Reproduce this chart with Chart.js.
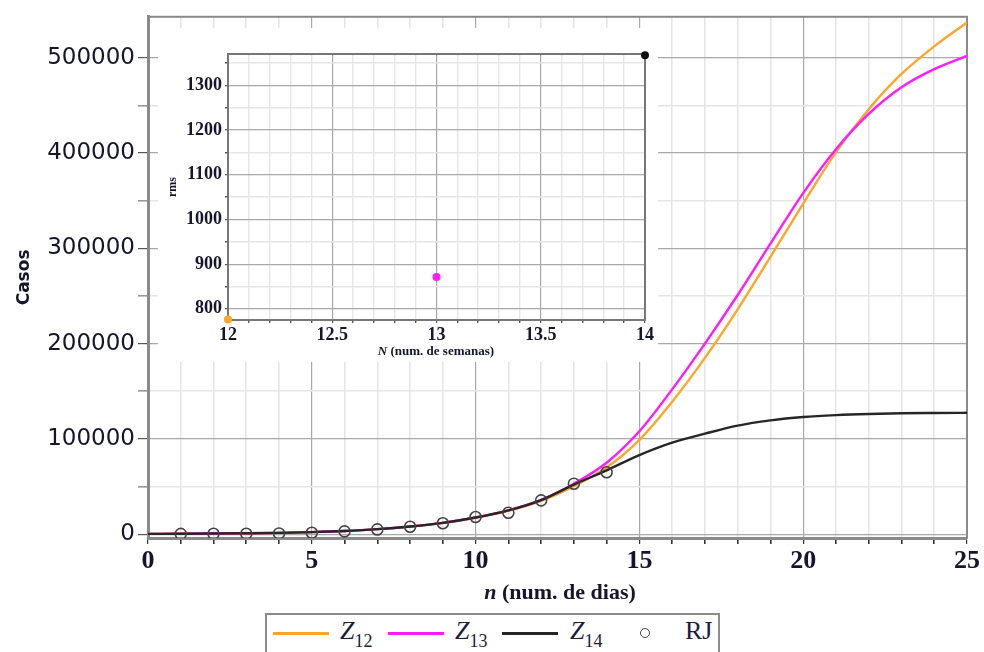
<!DOCTYPE html>
<html>
<head>
<meta charset="utf-8">
<script src="https://cdn.jsdelivr.net/npm/chart.js@4.4.1/dist/chart.umd.min.js"></script>
<style>
  html, body { margin: 0; padding: 0; background: #fff; overflow: hidden; }
  #wrap { position: relative; width: 984px; height: 652px; }
  #mainChart { position: absolute; left: 0; top: 0; }
  #insetBox { position: absolute; left: 158px; top: 28px; width: 500px; height: 334px; background: #fff; }
  #insetChart { position: absolute; left: 0; top: 0; }
  .axisTitle { position: absolute; font-family: "Liberation Serif", serif; font-weight: bold; color: #15152e; white-space: nowrap; transform: translateX(-50%); }
  #xTitle { left: 560px; top: 579px; font-size: 22px; }
  #insetXTitle { left: 278px; top: 315px; font-size: 13px; }
  #legend { position: absolute; left: 265px; top: 613px; width: 451px; height: 60px; border: 2px solid #8c8c8c; background: #fff; }
  #legend .ln { position: absolute; top: 17px; width: 56px; height: 3px; }
  #legend .lbl { position: absolute; top: 1px; font-family: "Liberation Serif", serif; font-size: 26px; color: #1c1c3c; white-space: nowrap; }
  #legend .lbl i { font-style: italic; }
  #legend .lbl sub { font-size: 18px; position: relative; top: 1px; vertical-align: -7px; line-height: 0; }
  #legend .dot { position: absolute; top: 13px; left: 373px; width: 8px; height: 8px; border: 1.6px solid #444; border-radius: 50%; }
</style>
</head>
<body>
<div id="wrap">
  <canvas id="mainChart" width="984" height="652"></canvas>
  <div class="axisTitle" id="xTitle"><i>n</i> (num. de dias)</div>
  <div id="insetBox">
    <canvas id="insetChart" width="500" height="334"></canvas>
    <div class="axisTitle" id="insetXTitle"><i>N</i> (num. de semanas)</div>
  </div>
  <div id="legend">
    <span class="ln" style="left:6px; background:#ffa52a;"></span>
    <span class="lbl" style="left:73px;"><i>Z</i><sub>12</sub></span>
    <span class="ln" style="left:121px; background:#ff1aff;"></span>
    <span class="lbl" style="left:188px;"><i>Z</i><sub>13</sub></span>
    <span class="ln" style="left:235px; background:#262626;"></span>
    <span class="lbl" style="left:303px;"><i>Z</i><sub>14</sub></span>
    <span class="dot"></span>
    <span class="lbl" style="left:418px;">RJ</span>
  </div>
</div>
<script>
// model curves, one value per day
const days = [0, 1, 2, 3, 4, 5, 6, 7, 8, 9, 10, 11, 12, 13, 14, 15, 16, 17, 18, 19, 20, 21, 22, 23, 24, 25];
const z12 = [300, 450, 650, 950, 1400, 2200, 3400, 5300, 8100, 11800, 17200, 24500, 35000, 50500,
             70000, 99000, 139000, 185000, 236000, 291000, 347000, 401000, 446000, 483000, 512000, 537000];
const z13 = [300, 450, 650, 950, 1400, 2200, 3400, 5300, 8100, 11900, 17500, 25000, 36000, 53000,
             75000, 108000, 152000, 200000, 251000, 305000, 358000, 404000, 441000, 469000, 488000, 502000];
const z14 = [300, 450, 650, 950, 1400, 2200, 3400, 5300, 8100, 11900, 17500, 25000, 35800, 52000,
             67000, 83000, 96000, 105500, 114000, 119500, 123000, 125000, 126200, 126900, 127200, 127400];

// observed cases (RJ)
const rjDays = [1, 2, 3, 4, 5, 6, 7, 8, 9, 10, 11, 12, 13, 14];
const rjCases = [300, 400, 500, 800, 1500, 3000, 5000, 7800, 11500, 18000, 22500, 35500, 53000, 65000];

// tick positions
const dayTicks = days;
const caseTicks = [0, 50000, 100000, 150000, 200000, 250000, 300000, 350000, 400000, 450000, 500000];

// inset: rms error against number of weeks used
const weeks = [12, 13, 14];
const rms = [776, 871, 1367];
const rmsColors = ['#ffa52a', '#ff1aff', '#111111'];
const weekTicks = [12, 12.1, 12.2, 12.3, 12.4, 12.5, 12.6, 12.7, 12.8, 12.9, 13,
                   13.1, 13.2, 13.3, 13.4, 13.5, 13.6, 13.7, 13.8, 13.9, 14];
const rmsTicks = [800, 850, 900, 950, 1000, 1050, 1100, 1150, 1200, 1250, 1300, 1350];

const textColor = '#15152e';
const majorGrid = '#a9a9a9';
const minorGrid = '#e6e6e6';

const toXY = (xs, ys) => xs.map((x, i) => ({ x: x, y: ys[i] }));
const fixTicks = values => scale => { scale.ticks = values.map(v => ({ value: v })); };

// box around the plotting area
const frame = {
  id: 'frame',
  beforeDatasetsDraw(chart, args, opts) {
    const a = chart.chartArea;
    const ctx = chart.ctx;
    ctx.save();
    ctx.strokeStyle = opts.color;
    ctx.lineWidth = opts.width;
    ctx.strokeRect(a.left, a.top, a.right - a.left, a.bottom - a.top);
    ctx.restore();
  }
};

const curve = (label, data, color, order) => ({
  label: label,
  data: toXY(days, data),
  borderColor: color,
  borderWidth: 2.4,
  pointRadius: 0,
  cubicInterpolationMode: 'monotone',
  fill: false,
  order: order
});

const isFive = c => c.tick && c.tick.value % 5 === 0;
const isLakh = c => c.tick && c.tick.value % 100000 === 0;

const mainChart = new Chart(document.getElementById('mainChart'), {
  type: 'line',
  data: {
    datasets: [
      {
        label: 'RJ',
        data: toXY(rjDays, rjCases),
        showLine: false,
        pointStyle: 'circle',
        pointRadius: 5.5,
        pointBorderWidth: 1.6,
        pointBorderColor: '#444',
        pointBackgroundColor: 'rgba(0,0,0,0)',
        order: 0
      },
      curve('Z14', z14, '#262626', 1),
      curve('Z13', z13, '#ff1aff', 2),
      curve('Z12', z12, '#ffa52a', 3)
    ]
  },
  options: {
    responsive: false,
    animation: false,
    layout: { padding: { top: 14, right: 17, left: 0, bottom: 0 } },
    scales: {
      x: {
        type: 'linear',
        min: 0,
        max: 25,
        afterBuildTicks: fixTicks(dayTicks),
        afterFit: s => { s.height = 114; },
        ticks: {
          autoSkip: false,
          maxRotation: 0,
          padding: 2,
          color: textColor,
          font: { family: 'Liberation Serif', size: 26, weight: 'bold' },
          callback: v => (v % 5 === 0 ? String(v) : '')
        },
        grid: {
          color: c => (isFive(c) ? majorGrid : minorGrid),
          lineWidth: c => (isFive(c) ? 1.2 : 1.6),
          tickColor: '#333',
          tickLength: 6
        },
        border: { color: '#8a8a8a', width: 3 }
      },
      y: {
        min: -4000,
        max: 543000,
        afterBuildTicks: fixTicks(caseTicks),
        afterFit: s => { s.width = 148; },
        ticks: {
          autoSkip: false,
          padding: 3,
          color: textColor,
          font: { family: 'DejaVu Sans', size: 23 },
          callback: v => (v % 100000 === 0 ? String(v) : '')
        },
        grid: {
          color: c => (isLakh(c) ? majorGrid : minorGrid),
          lineWidth: c => (isLakh(c) ? 1.2 : 1.6),
          tickColor: c => (isLakh(c) ? '#555' : '#999'),
          tickLength: 10
        },
        border: { color: '#8a8a8a', width: 3 },
        title: {
          display: true,
          text: 'Casos',
          color: textColor,
          font: { family: 'DejaVu Sans', size: 17, weight: 'bold' },
          padding: { top: 14, bottom: 0 }
        }
      }
    },
    plugins: {
      legend: { display: false },
      tooltip: { enabled: false },
      frame: { color: '#8a8a8a', width: 2 }
    }
  },
  plugins: [frame]
});

const isHalf = v => Math.round(v * 10) % 5 === 0;

const insetChart = new Chart(document.getElementById('insetChart'), {
  type: 'scatter',
  data: {
    datasets: [{
      label: 'rms',
      data: toXY(weeks, rms),
      pointRadius: 4,
      pointBorderWidth: 0,
      pointBackgroundColor: rmsColors,
      clip: false
    }]
  },
  options: {
    responsive: false,
    animation: false,
    layout: { padding: { top: 26, right: 13, left: 0, bottom: 0 } },
    scales: {
      x: {
        type: 'linear',
        min: 12,
        max: 14,
        afterBuildTicks: fixTicks(weekTicks),
        afterFit: s => { s.height = 42; },
        ticks: {
          autoSkip: false,
          maxRotation: 0,
          padding: 2,
          color: textColor,
          font: { family: 'Liberation Serif', size: 18, weight: 'bold' },
          callback: v => (isHalf(v) ? String(Math.round(v * 10) / 10) : '')
        },
        grid: {
          color: c => (c.tick && isHalf(c.tick.value) ? majorGrid : minorGrid),
          lineWidth: c => (c.tick && isHalf(c.tick.value) ? 1.2 : 1.4),
          tickColor: '#555',
          tickLength: 3
        },
        border: { color: '#777', width: 2 }
      },
      y: {
        min: 775,
        max: 1370,
        afterBuildTicks: fixTicks(rmsTicks),
        afterFit: s => { s.width = 70; },
        ticks: {
          autoSkip: false,
          padding: 3,
          color: textColor,
          font: { family: 'Liberation Serif', size: 18, weight: 'bold' },
          callback: v => (v % 100 === 0 ? String(v) : '')
        },
        grid: {
          color: c => (c.tick && c.tick.value % 100 === 0 ? majorGrid : minorGrid),
          lineWidth: c => (c.tick && c.tick.value % 100 === 0 ? 1.2 : 1.4),
          tickColor: '#555',
          tickLength: 3
        },
        border: { color: '#777', width: 2 },
        title: {
          display: true,
          text: 'rms',
          color: textColor,
          font: { family: 'Liberation Serif', size: 12, weight: 'bold' },
          padding: { top: 8, bottom: 0 }
        }
      }
    },
    plugins: {
      legend: { display: false },
      tooltip: { enabled: false },
      frame: { color: '#777', width: 2 }
    }
  },
  plugins: [frame]
});
</script>
</body>
</html>
